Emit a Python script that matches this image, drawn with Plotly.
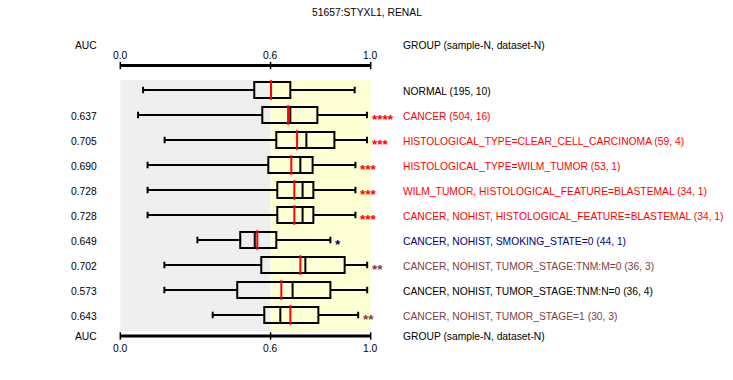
import plotly.graph_objects as go

# ---------------- data ----------------
title = "51657:STYXL1, RENAL"
groups = [
    "NORMAL (195, 10)",
    "CANCER (504, 16)",
    "HISTOLOGICAL_TYPE=CLEAR_CELL_CARCINOMA (59, 4)",
    "HISTOLOGICAL_TYPE=WILM_TUMOR (53, 1)",
    "WILM_TUMOR, HISTOLOGICAL_FEATURE=BLASTEMAL (34, 1)",
    "CANCER, NOHIST, HISTOLOGICAL_FEATURE=BLASTEMAL (34, 1)",
    "CANCER, NOHIST, SMOKING_STATE=0 (44, 1)",
    "CANCER, NOHIST, TUMOR_STAGE:TNM:M=0 (36, 3)",
    "CANCER, NOHIST, TUMOR_STAGE:TNM:N=0 (36, 4)",
    "CANCER, NOHIST, TUMOR_STAGE=1 (30, 3)",
]
auc_text = ["", "0.637", "0.705", "0.690", "0.728", "0.728", "0.649", "0.702", "0.573", "0.643"]
stars = ["", "****", "***", "***", "***", "***", "*", "**", "", "**"]
label_colors = ["#000000", "#FF0000", "#FF0000", "#FF0000", "#FF0000", "#FF0000",
                "#000080", "#804040", "#000000", "#804040"]
lower = [0.091, 0.071, 0.177, 0.109, 0.109, 0.109, 0.308, 0.176, 0.176, 0.369]
q1 = [0.535, 0.567, 0.623, 0.591, 0.627, 0.627, 0.479, 0.563, 0.467, 0.575]
median = [0.602, 0.679, 0.743, 0.719, 0.728, 0.728, 0.537, 0.739, 0.688, 0.639]
q3 = [0.679, 0.787, 0.855, 0.768, 0.771, 0.771, 0.623, 0.896, 0.839, 0.791]
upper = [0.936, 0.985, 0.985, 0.939, 0.939, 0.939, 0.839, 0.986, 0.986, 0.950]
red_mark = [0.602, 0.670, 0.706, 0.683, 0.695, 0.695, 0.547, 0.719, 0.643, 0.679]
tick_vals = [0.0, 0.6, 1.0]
tick_text = ["0.0", "0.6", "1.0"]
threshold = 0.6

# ---------------- geometry helpers ----------------
W, H = 733, 380
X0PX, XSCALE = 120.3, 250.4      # pixel of 0.0, pixels per unit
Y0PX, YSTEP = 90.0, 25.0         # pixel of row 0, pixels per row


def px2x(px):
    return (px - X0PX) / XSCALE


def py2y(py):
    return (py - Y0PX) / YSTEP


rows = list(range(len(groups)))
FONT = "Liberation Sans"
FS = 10.3
LABEL_X = px2x(401.0)
AUC_X = px2x(98.5)

fig = go.Figure()

fig.add_trace(go.Box(
    y=rows, q1=q1, median=median, q3=q3, lowerfence=lower, upperfence=upper,
    orientation="h", width=0.64, whiskerwidth=0.4,
    line=dict(color="black", width=2), fillcolor="rgba(0,0,0,0)",
    boxpoints=False, hoverinfo="skip", showlegend=False,
))
fig.add_trace(go.Scatter(
    x=red_mark, y=rows, mode="markers",
    marker=dict(symbol="line-ns", size=14, line=dict(color="#FF0000", width=2)),
    hoverinfo="skip", showlegend=False,
))

shapes = []
top_bg, bot_bg = py2y(80), py2y(331)
shapes.append(dict(type="rect", xref="x", yref="y", x0=0, x1=threshold, y0=top_bg, y1=bot_bg,
                   fillcolor="#EFEFEF", line=dict(width=0), layer="below"))
shapes.append(dict(type="rect", xref="x", yref="y", x0=threshold, x1=1.0, y0=top_bg, y1=bot_bg,
                   fillcolor="#FFFFD4", line=dict(width=0), layer="below"))

annotations = []
for axis_py, lab_py in [(65.5, 55), (336, 348)]:
    ya = py2y(axis_py)
    shapes.append(dict(type="line", xref="x", yref="y", x0=tick_vals[0], x1=tick_vals[-1],
                       y0=ya, y1=ya, line=dict(color="black", width=3)))
    for tv, tt in zip(tick_vals, tick_text):
        shapes.append(dict(type="line", xref="x", yref="y", x0=tv, x1=tv,
                           y0=py2y(axis_py - 3.7), y1=py2y(axis_py + 3.7),
                           line=dict(color="black", width=1.5)))
        annotations.append(dict(x=tv, y=py2y(lab_py), xref="x", yref="y", text=tt,
                                showarrow=False, xanchor="center", yanchor="middle",
                                font=dict(family=FONT, size=FS, color="black")))

for hdr_py in [45, 336]:
    annotations.append(dict(x=AUC_X, y=py2y(hdr_py), xref="x", yref="y", text="AUC",
                            showarrow=False, xanchor="right", yanchor="middle",
                            font=dict(family=FONT, size=FS, color="black")))
    annotations.append(dict(x=LABEL_X, y=py2y(hdr_py), xref="x", yref="y",
                            text="GROUP (sample-N, dataset-N)",
                            showarrow=False, xanchor="left", yanchor="middle",
                            font=dict(family=FONT, size=FS, color="black")))

for i in rows:
    annotations.append(dict(x=LABEL_X, y=i, xref="x", yref="y", text=groups[i],
                            showarrow=False, xanchor="left", yanchor="middle", yshift=-1,
                            font=dict(family=FONT, size=FS, color=label_colors[i])))
    if auc_text[i]:
        annotations.append(dict(x=AUC_X, y=i, xref="x", yref="y", text=auc_text[i],
                                showarrow=False, xanchor="right", yanchor="middle", yshift=-1,
                                font=dict(family=FONT, size=FS, color="black")))
    if stars[i]:
        annotations.append(dict(x=upper[i], y=i, xref="x", yref="y", text="<b>" + stars[i] + "</b>",
                                showarrow=False, xanchor="left", yanchor="middle",
                                xshift=3, yshift=-4,
                                font=dict(family=FONT, size=13.5, color=label_colors[i])))

annotations.append(dict(x=px2x(366.5), y=py2y(12), xref="x", yref="y", text=title,
                        showarrow=False, xanchor="center", yanchor="middle",
                        font=dict(family=FONT, size=FS, color="black")))

fig.update_layout(
    width=W, height=H, autosize=False,
    margin=dict(l=0, r=0, t=0, b=0),
    paper_bgcolor="white", plot_bgcolor="white",
    xaxis=dict(range=[px2x(0), px2x(W)], visible=False, fixedrange=True),
    yaxis=dict(range=[py2y(H), py2y(0)], visible=False, fixedrange=True),
    shapes=shapes, annotations=annotations, showlegend=False,
)

fig.write_html("out.html", config={"displayModeBar": False},
               post_script="document.body.style.margin='0';document.body.style.overflow='hidden';")
